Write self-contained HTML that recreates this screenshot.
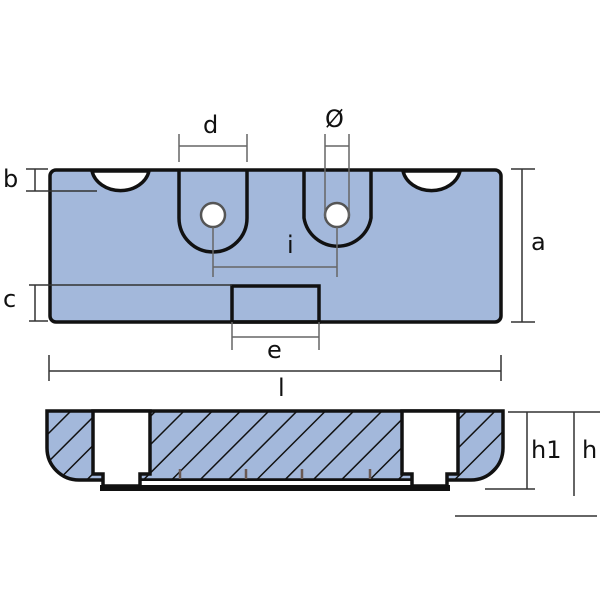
<!DOCTYPE html>
<html><head><style>
html,body{margin:0;padding:0;background:#fff;}
svg{display:block;}
text{font-family:"DejaVu Sans","Liberation Sans",sans-serif;font-size:24px;fill:#111;}
</style></head><body>
<svg width="600" height="600" viewBox="0 0 600 600" xmlns="http://www.w3.org/2000/svg">
<defs>
<pattern id="h" patternUnits="userSpaceOnUse" width="20" height="20" patternTransform="rotate(-45)">
<rect width="20" height="20" fill="#a3b8db"/>
<line x1="0" y1="0" x2="20" y2="0" stroke="#111" stroke-width="3"/>
</pattern>
</defs>
<!-- top view -->
<rect x="50" y="170" width="451" height="152" rx="6" fill="#a3b8db" stroke="#111" stroke-width="3.5"/>
<path d="M92,171 A29,24 0 0 0 149,171 Z" fill="#fff" stroke="#111" stroke-width="3.5"/>
<path d="M403,171 A29,24 0 0 0 460,171 Z" fill="#fff" stroke="#111" stroke-width="3.5"/>
<path d="M179,171 V218 A34,34 0 0 0 247,218 V171" fill="none" stroke="#111" stroke-width="3.5"/>
<path d="M304,171 V218 A34,34 0 0 0 371,218 V171" fill="none" stroke="#111" stroke-width="3.5"/>
<rect x="232" y="286" width="87" height="36" fill="none" stroke="#111" stroke-width="3.5"/>
<circle cx="213" cy="215" r="12" fill="#fff" stroke="#555" stroke-width="2.5"/>
<circle cx="337" cy="215" r="12" fill="#fff" stroke="#555" stroke-width="2.5"/>
<g stroke="#666" stroke-width="1.5" fill="none">
<path d="M179,134V162 M247,134V162 M179,146H247"/>
<path d="M325,134V217 M349,134V217 M325,146H349"/>
<path d="M213,227V277 M337,227V277 M213,267H337"/>
<path d="M232,322V350 M319,322V350 M232,337H319"/>
</g>
<g stroke="#333" stroke-width="1.5" fill="none">
<path d="M26,169H48 M26,191H97 M35,169V191"/>
<path d="M29,285H232 M29,321H48 M35,285V321"/>
<path d="M511,169H535 M511,322H535 M522,169V322"/>
<path d="M49,355V381 M501,355V381 M49,371H501"/>
</g>
<text x="203" y="133">d</text>
<text x="325" y="127">Ø</text>
<text x="287" y="253">i</text>
<text x="267" y="358">e</text>
<text x="3" y="187">b</text>
<text x="3" y="307">c</text>
<text x="531" y="250">a</text>
<text x="278" y="396">l</text>
<!-- side view -->
<path d="M47,411 H503 V448 A32,32 0 0 1 471,480 H79 A32,32 0 0 1 47,448 Z" fill="url(#h)" stroke="#111" stroke-width="3.5"/>
<rect x="100" y="485" width="350" height="6" fill="#111"/>
<rect x="140" y="480" width="272" height="6" fill="#fff" stroke="#111" stroke-width="2"/>
<path d="M93,411 V474 H103 V486 H140 V474 H150 V411 Z" fill="#fff" stroke="#111" stroke-width="3.5"/>
<path d="M402,411 V474 H412 V486 H447 V474 H458 V411 Z" fill="#fff" stroke="#111" stroke-width="3.5"/>
<g stroke="#6a5a55" stroke-width="2.5">
<path d="M180,469V479 M246,469V479 M302,469V479 M370,469V479"/>
</g>
<g stroke="#333" stroke-width="1.5" fill="none">
<path d="M508,412H600 M527,412V489 M485,489H535 M574,412V496 M455,516H597"/>
</g>
<text x="531" y="458">h1</text>
<text x="582" y="458">h</text>
</svg>
</body></html>
